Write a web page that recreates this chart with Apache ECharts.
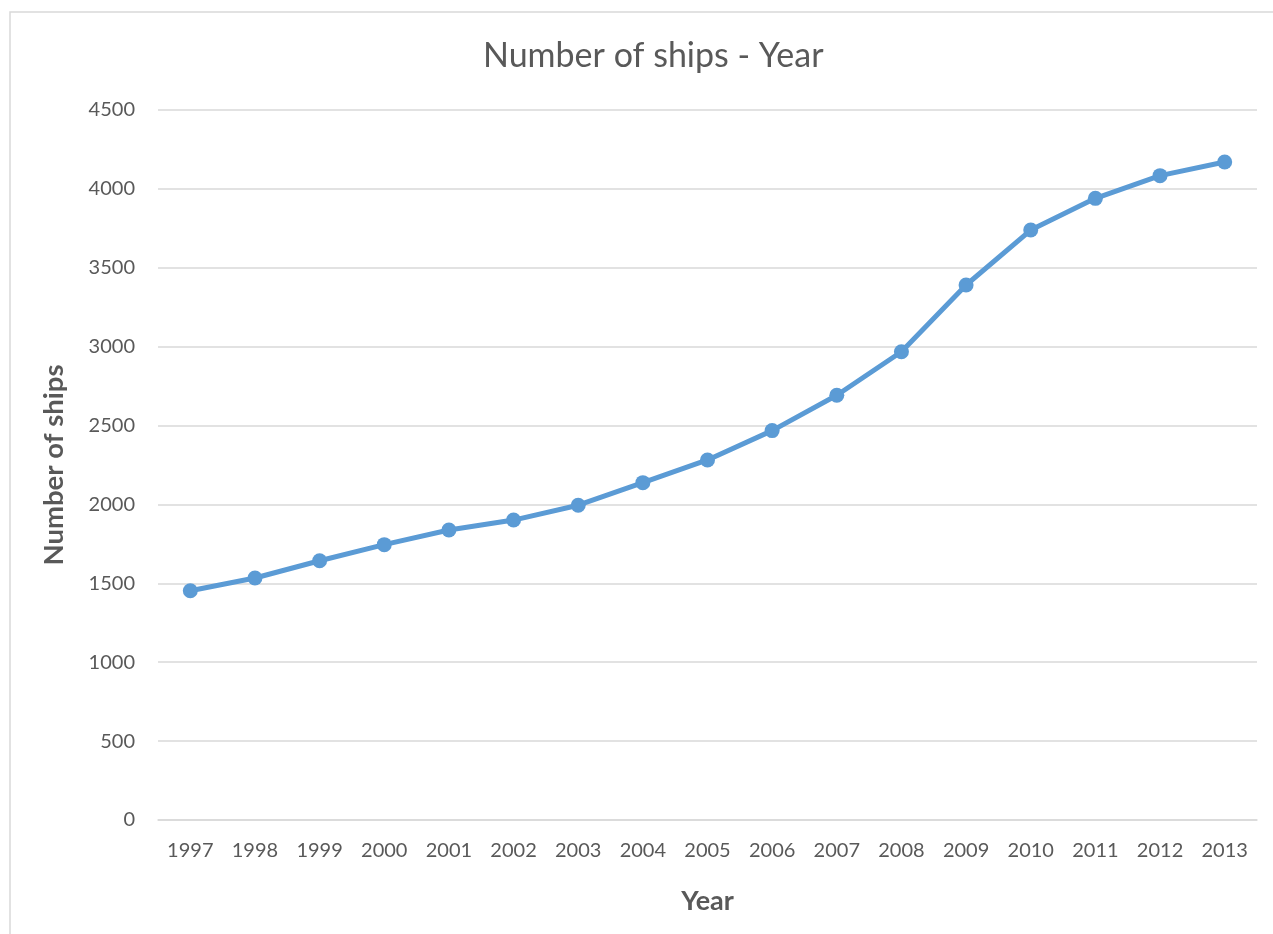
<!DOCTYPE html>
<html>
<head>
<meta charset="utf-8">
<style>
  html, body { margin: 0; padding: 0; background: #ffffff; }
  #chart { width: 1273px; height: 934px; }
</style>
<script src="https://cdn.jsdelivr.net/npm/echarts@6/dist/echarts.min.js"></script>
</head>
<body>
<div id="chart"></div>
<script>
// Fleet size per year
const years = ['1997', '1998', '1999', '2000', '2001', '2002', '2003', '2004', '2005',
               '2006', '2007', '2008', '2009', '2010', '2011', '2012', '2013'];
const ships = [1453, 1534, 1643, 1745, 1838, 1901, 1995, 2138, 2282,
               2468, 2692, 2968, 3391, 3739, 3940, 4084, 4170];

const FONT = 'Lato, "Open Sans", sans-serif';
const TEXT = '#595959';

const chart = echarts.init(document.getElementById('chart'), null, { renderer: 'canvas' });

chart.setOption({
  backgroundColor: '#ffffff',
  animation: false,
  title: {
    text: 'Number of ships - Year',
    left: 478,
    top: 34,
    textStyle: { fontFamily: FONT, fontSize: 34, fontWeight: 'normal', color: TEXT }
  },
  graphic: [{
    type: 'rect',
    shape: { x: 10, y: 12, width: 1300, height: 1000 },
    style: { fill: 'none', stroke: '#D9D9D9', lineWidth: 1.5 },
    silent: true,
    z: -1
  }],
  grid: { left: 158, right: 16, top: 110, bottom: 114 },
  xAxis: {
    type: 'category',
    data: years,
    boundaryGap: true,
    name: 'Year',
    nameLocation: 'middle',
    nameGap: 68,
    nameTextStyle: { fontFamily: FONT, fontSize: 27, fontWeight: 'bold', color: TEXT },
    axisLine: { show: true, lineStyle: { color: '#D9D9D9', width: 1.5 } },
    axisTick: { show: false },
    axisLabel: { fontFamily: FONT, fontSize: 20, color: TEXT, margin: 21, interval: 0 }
  },
  yAxis: {
    type: 'value',
    min: 0,
    max: 4500,
    interval: 500,
    name: 'Number of ships',
    nameLocation: 'middle',
    nameGap: 90,
    nameRotate: 90,
    nameTextStyle: { fontFamily: FONT, fontSize: 27.5, fontWeight: 'bold', color: TEXT },
    axisLine: { show: false },
    axisTick: { show: false },
    axisLabel: {
      fontFamily: FONT, fontSize: 20, color: TEXT, margin: 23,
      formatter: (v) => String(v)
    },
    splitLine: { lineStyle: { color: '#D9D9D9', width: 1.5 } }
  },
  series: [{
    type: 'line',
    data: ships,
    symbol: 'circle',
    symbolSize: 15,
    lineStyle: { color: '#5B9BD5', width: 5 },
    itemStyle: { color: '#5B9BD5' },
    z: 5
  }]
});
</script>
</body>
</html>
